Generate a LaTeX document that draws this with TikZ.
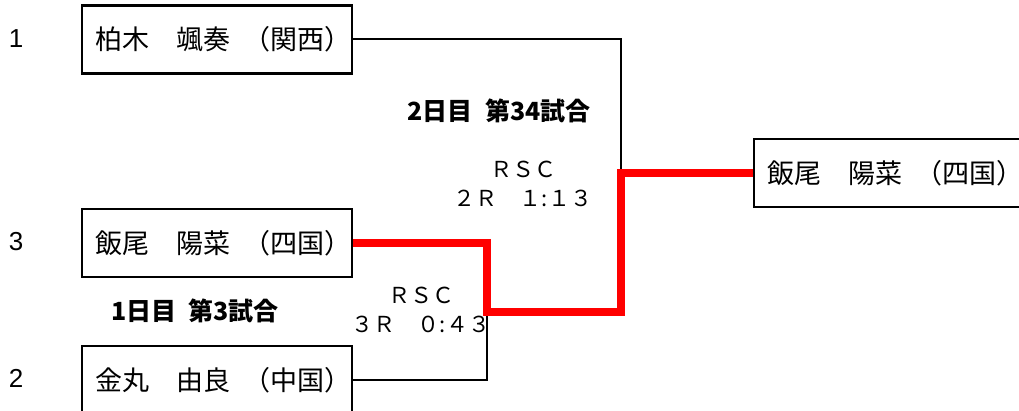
\documentclass[tikz,border=0pt]{standalone}
\usepackage{fontspec}
\setmainfont{Liberation Sans}
\newfontfamily\jp{Noto Sans CJK JP}
\usepackage{tikz}

\tikzset{
  player/.style={draw, line width=2.2pt, minimum width=270*0.75pt, minimum height=68*0.75pt,
    text width=244*0.75pt, inner xsep=13*0.75pt, align=left,
    font=\jp\fontsize{20.25pt}{22pt}\selectfont},
  seed/.style={font=\fontsize{19.5pt}{21pt}\selectfont},
  bout/.style={font=\jp\bfseries\fontsize{18.75pt}{20pt}\selectfont},
  result/.style={font=\jp\fontsize{16.5pt}{21.75pt}\selectfont, align=center},
  loser/.style={line width=1.5pt},
  win/.style={line width=5.5pt, red, line join=miter}
}
\newcommand\hsp{\kern.5em}

\begin{document}
\begin{tikzpicture}[x=0.75pt,y=-0.75pt]
\useasboundingbox (0,0) rectangle (1019,410);
\clip (0,0) rectangle (1019,410);

\node[player] (kashiwagi) at (217,39.5) {柏木　颯奏\hsp（関西）};
\node[player] (iio) at (217,243) {飯尾　陽菜\hsp（四国）};
\node[player] (kanamaru) at (217,380) {金丸　由良\hsp（中国）};
\node[player] (final) at (889,173) {飯尾　陽菜\hsp（四国）};

\foreach \s/\y in {1/39,3/242,2/378}{
	\node[seed] (seed\s) at (16,\y) {\s};
}

\coordinate (m1) at (487,312);
\coordinate (m2) at (621,312);

\draw[loser] (kashiwagi.east) -| (m2 |- final.west);
\draw[loser] (kanamaru.east) -| (m1);
\draw[win] (iio.east) -| (m1) -- (m2) |- (final.west);

\node[bout] (day2) at (499,111) {2日目\hsp 第34試合};
\node[bout] (day1) at (195,311) {1日目\hsp 第3試合};

\node[result] (res2) at (523,184) {ＲＳＣ\\２Ｒ　１:１３};
\node[result] (res1) at (421,310) {ＲＳＣ\\３Ｒ　０:４３};

\end{tikzpicture}
\end{document}
